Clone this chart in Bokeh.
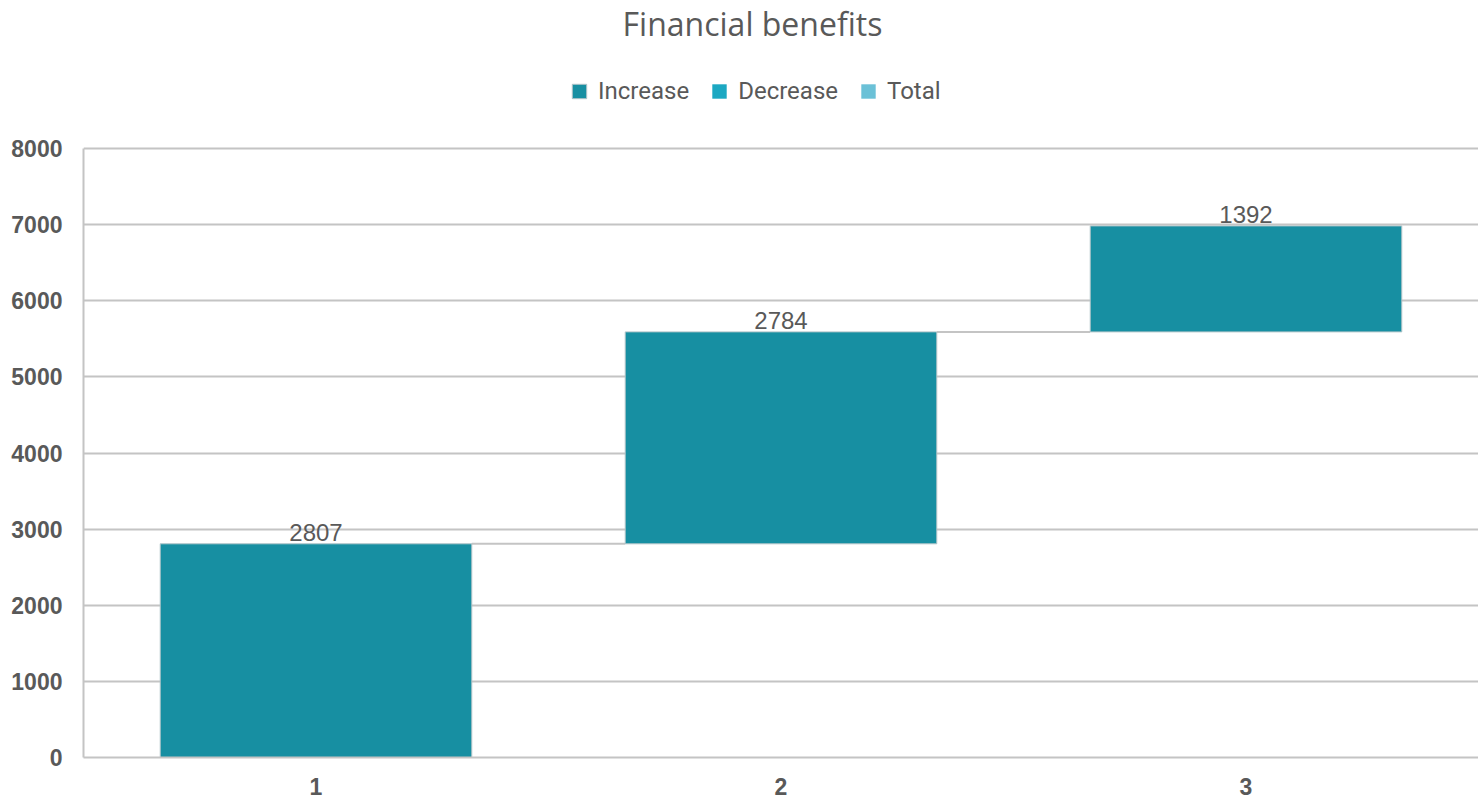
from bokeh.plotting import figure
from bokeh.models import (Range1d, FixedTicker, Legend, LegendItem, ColumnDataSource, Label)
from bokeh.core.properties import value
from bokeh.embed import file_html
from bokeh.resources import INLINE

# ---- data ----
categories = ["1", "2", "3"]
changes = [2807, 2784, 1392]
series_names = ["Increase", "Decrease", "Total"]
series_colors = ["#178fa2", "#1ca8c2", "#6bc1d7"]
y_ticks = [0, 1000, 2000, 3000, 4000, 5000, 6000, 7000, 8000]
title_text = "Financial benefits"

# waterfall bottoms / tops
bottoms, tops = [], []
run = 0
for c in changes:
    bottoms.append(run)
    run += c
    tops.append(run)
xs = [i + 1 for i in range(len(categories))]
bar_w = 0.67

src = ColumnDataSource(dict(x=xs, bottom=bottoms, top=tops,
                            label=[str(c) for c in changes]))

# frame spans the full height; the axis itself only covers 0..8000 (px 148..757)
y_top = y_ticks[-1] * 757.0 / (757 - 148)

p = figure(width=1478, height=799, output_backend="svg", toolbar_location=None,
           x_range=Range1d(0.5, len(categories) + 0.5), y_range=Range1d(0, y_top),
           min_border_left=83, min_border_right=0, min_border_top=0,
           min_border_bottom=42)
p.outline_line_color = None
p.background_fill_color = "white"
p.border_fill_color = "white"

# grid
p.xgrid.grid_line_color = None
p.ygrid.grid_line_color = "#c4c4c4"
p.ygrid.grid_line_width = 2
p.ygrid.ticker = FixedTicker(ticks=y_ticks)

# axes
p.yaxis.ticker = FixedTicker(ticks=y_ticks)
p.yaxis.bounds = (y_ticks[0], y_ticks[-1])
p.xaxis.ticker = FixedTicker(ticks=xs)
p.xaxis.major_label_overrides = {x: c for x, c in zip(xs, categories)}
for ax in (p.xaxis, p.yaxis):
    ax.axis_line_color = "#c4c4c4"
    ax.axis_line_width = 2
    ax.major_tick_line_color = None
    ax.minor_tick_line_color = None
    ax.major_label_text_font = "Liberation Sans"
    ax.major_label_text_font_size = "23px"
    ax.major_label_text_font_style = "bold"
    ax.major_label_text_color = "#595959"
p.yaxis.major_label_standoff = 15
p.xaxis.major_label_standoff = 14

# connectors
cx0 = [x + bar_w / 2 for x in xs[:-1]]
cx1 = [x - bar_w / 2 for x in xs[1:]]
p.segment(x0=cx0, x1=cx1, y0=tops[:-1], y1=tops[:-1],
          line_color="#c4c4c4", line_width=2)

# bars
r_inc = p.vbar(x="x", bottom="bottom", top="top", width=bar_w, source=src,
               fill_color=series_colors[0], line_color="#b0c4c8", line_width=1)
r_dec = p.vbar(x=[-10], bottom=[0], top=[0], width=bar_w,
               fill_color=series_colors[1], line_color=None)
r_tot = p.vbar(x=[-10], bottom=[0], top=[0], width=bar_w,
               fill_color=series_colors[2], line_color=None)

# data labels
p.text(x="x", y="top", text="label", source=src, text_align="center",
       text_baseline="bottom", y_offset=-3,
       text_font=value("Liberation Sans"), text_font_size="24px",
       text_color="#595959")

# title (screen units from frame bottom-left)
p.add_layout(Label(x=669, y=734, x_units="screen", y_units="screen",
                   text=title_text, text_align="center", text_baseline="middle",
                   text_font="Open Sans", text_font_size="32px",
                   text_color="#595959"))

legend = Legend(items=[LegendItem(label=series_names[0], renderers=[r_inc]),
                       LegendItem(label=series_names[1], renderers=[r_dec]),
                       LegendItem(label=series_names[2], renderers=[r_tot])],
                orientation="horizontal", location=(487, 652),
                label_text_font="Roboto", label_text_font_size="24px",
                label_text_color="#595959",
                glyph_width=18, glyph_height=18, spacing=21,
                label_standoff=10, border_line_color=None,
                background_fill_alpha=0, margin=0, padding=0)
p.add_layout(legend, "center")

open("out.html", "w").write(file_html(p, INLINE))
